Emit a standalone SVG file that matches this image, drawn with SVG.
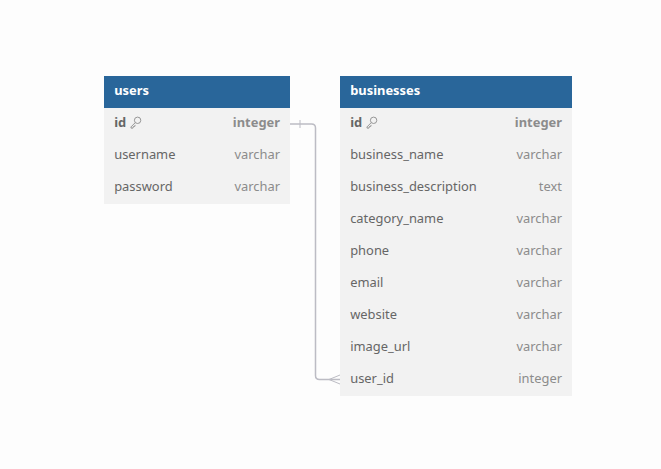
<svg xmlns="http://www.w3.org/2000/svg" width="661" height="469" viewBox="0 0 661 469">
<style>
text{font-family:"Noto Sans","Open Sans",sans-serif;font-size:12.9px;fill:#666666}
.h{fill:#29669a}
.b{fill:#f2f2f2}
.t{fill:#ffffff;font-weight:700}
.pk{font-weight:700;fill:#666666}
.ty{text-anchor:end;fill:#8c8c8c}
.typk{text-anchor:end;fill:#8c8c8c;font-weight:700}
.c{fill:none;stroke:#bcbcc4;stroke-width:1.5}
.m{fill:none;stroke:#bcbcc4;stroke-width:1}
.k{fill:none;stroke:#8c8c8c;stroke-width:.9}
</style>
<defs>
<g id="key"><circle cx="7.600" cy="3.800" r="3.200" class="k"/><path class="k" d="M5.200 6.200L1 10.400v1.200h2l.3-1.500 1.500-.2.3-1.500"/></g>
</defs>
<rect width="661" height="469" fill="#fdfdfd"/>
<g id="connectors">
<path class="c" d="M290 124H311.500Q315.500 124 315.500 128V375.500Q315.500 379.500 319.500 379.500H340"/>
<path class="m" d="M300 120V128M329 379.500L340 375M329 379.500L340 384"/>
</g>
<g id="users">
<rect class="b" x="104" y="76" width="186" height="128"/>
<rect class="h" x="104" y="76" width="186" height="32"/>
<text class="t" x="114.200" y="95">users</text>
<text class="pk" x="114.200" y="127">id</text><use href="#key" x="130" y="116.500"/><text class="typk" x="280" y="127">integer</text>
<text x="114.200" y="159">username</text><text class="ty" x="280" y="159">varchar</text>
<text x="114.200" y="191">password</text><text class="ty" x="280" y="191">varchar</text>
</g>
<g id="businesses">
<rect class="b" x="340" y="76" width="232" height="320"/>
<rect class="h" x="340" y="76" width="232" height="32"/>
<text class="t" x="350.200" y="95">businesses</text>
<text class="pk" x="350.200" y="127">id</text><use href="#key" x="366" y="116.500"/><text class="typk" x="562" y="127">integer</text>
<text x="350.200" y="159">business_name</text><text class="ty" x="562" y="159">varchar</text>
<text x="350.200" y="191">business_description</text><text class="ty" x="562" y="191">text</text>
<text x="350.200" y="223">category_name</text><text class="ty" x="562" y="223">varchar</text>
<text x="350.200" y="255">phone</text><text class="ty" x="562" y="255">varchar</text>
<text x="350.200" y="287">email</text><text class="ty" x="562" y="287">varchar</text>
<text x="350.200" y="319">website</text><text class="ty" x="562" y="319">varchar</text>
<text x="350.200" y="351">image_url</text><text class="ty" x="562" y="351">varchar</text>
<text x="350.200" y="383">user_id</text><text class="ty" x="562" y="383">integer</text>
</g>
</svg>
